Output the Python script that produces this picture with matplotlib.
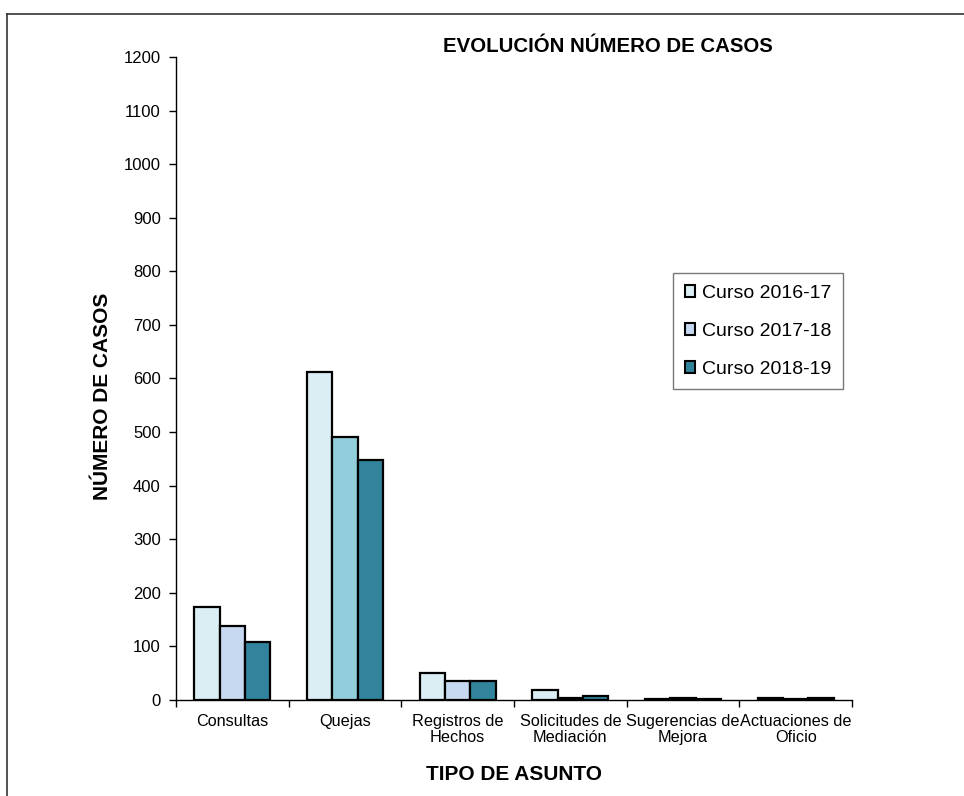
import matplotlib
matplotlib.use("Agg")
import matplotlib.pyplot as plt
import numpy as np
from matplotlib.lines import Line2D
from matplotlib.patches import Patch

plt.rcParams['font.family'] = ['Liberation Sans', 'DejaVu Sans']

categories = ["Consultas", "Quejas", "Registros de\nHechos", "Solicitudes de\nMediación",
              "Sugerencias de\nMejora", "Actuaciones de\nOficio"]
series_names = ["Curso 2016-17", "Curso 2017-18", "Curso 2018-19"]
curso_2016_17 = [174, 613, 50, 19, 2, 3]
curso_2017_18 = [139, 490, 35, 4, 3, 1]
curso_2018_19 = [108, 447, 35, 7, 2, 3]

color_2016 = "#DAEEF3"
colors_2017 = ["#C6D9F1", "#92CDDC", "#C6D9F1", "#C6D9F1", "#C6D9F1", "#C6D9F1"]
color_2018 = "#31849B"

fig = plt.figure(figsize=(9.64, 7.96), dpi=100)
ax = fig.add_axes([176/964, 1-700/796, (852-176)/964, (700-57)/796])

x = np.arange(len(categories))
w = 0.225
edge = dict(edgecolor="black", linewidth=1.6)
ax.bar(x - w, curso_2016_17, w, color=color_2016, **edge)
ax.bar(x, curso_2017_18, w, color=colors_2017, **edge)
ax.bar(x + w, curso_2018_19, w, color=color_2018, **edge)

ax.set_xlim(-0.5, len(categories) - 0.5)
ax.set_ylim(0, 1200)
ax.set_yticks(np.arange(0, 1201, 100))
ax.tick_params(axis='y', labelsize=12, length=5, width=1, pad=6, direction='out')

ax.set_xticks(x)
ax.set_xticklabels(categories, fontsize=11.7, linespacing=1.1)
ax.tick_params(axis='x', which='major', length=0, pad=10)
ax.set_xticks(np.arange(-0.5, len(categories)), minor=True)
ax.tick_params(axis='x', which='minor', length=5, width=1, direction='out')

for s in ['top', 'right']:
    ax.spines[s].set_visible(False)
for s in ['left', 'bottom']:
    ax.spines[s].set_linewidth(1)
    ax.spines[s].set_color("black")

ax.set_xlabel("TIPO DE ASUNTO", fontsize=15, fontweight='bold', labelpad=14)
ax.set_ylabel("NÚMERO DE CASOS", fontsize=15, fontweight='bold')
ax.yaxis.set_label_coords((103-176)/676, (700-396)/643)
ax.yaxis.label.set_va('center')

fig.text(608/964, 1-47/796, "EVOLUCIÓN NÚMERO DE CASOS", fontsize=14.7,
         fontweight='bold', ha='center', va='center')

handles = [Patch(facecolor=color_2016, edgecolor='black', linewidth=1.5),
           Patch(facecolor=colors_2017[0], edgecolor='black', linewidth=1.5),
           Patch(facecolor=color_2018, edgecolor='black', linewidth=1.5)]
leg = ax.legend(handles, series_names, loc='upper left',
                bbox_to_anchor=((673-176)/676, (700-273)/643),
                fontsize=14, frameon=True, fancybox=False, edgecolor='#555555',
                handlelength=0.55, handleheight=0.55, handletextpad=0.35,
                labelspacing=1.08, borderpad=0.6, borderaxespad=0)
leg.get_frame().set_linewidth(1)

# figure frame (left and top edges)
fig.add_artist(Line2D([7/964, 7/964], [0, 1-14/796], color="#333333", linewidth=1.2,
                      transform=fig.transFigure))
fig.add_artist(Line2D([7/964, 1], [1-14/796, 1-14/796], color="#333333", linewidth=1.2,
                      transform=fig.transFigure))

fig.savefig("out.png", dpi=100)
